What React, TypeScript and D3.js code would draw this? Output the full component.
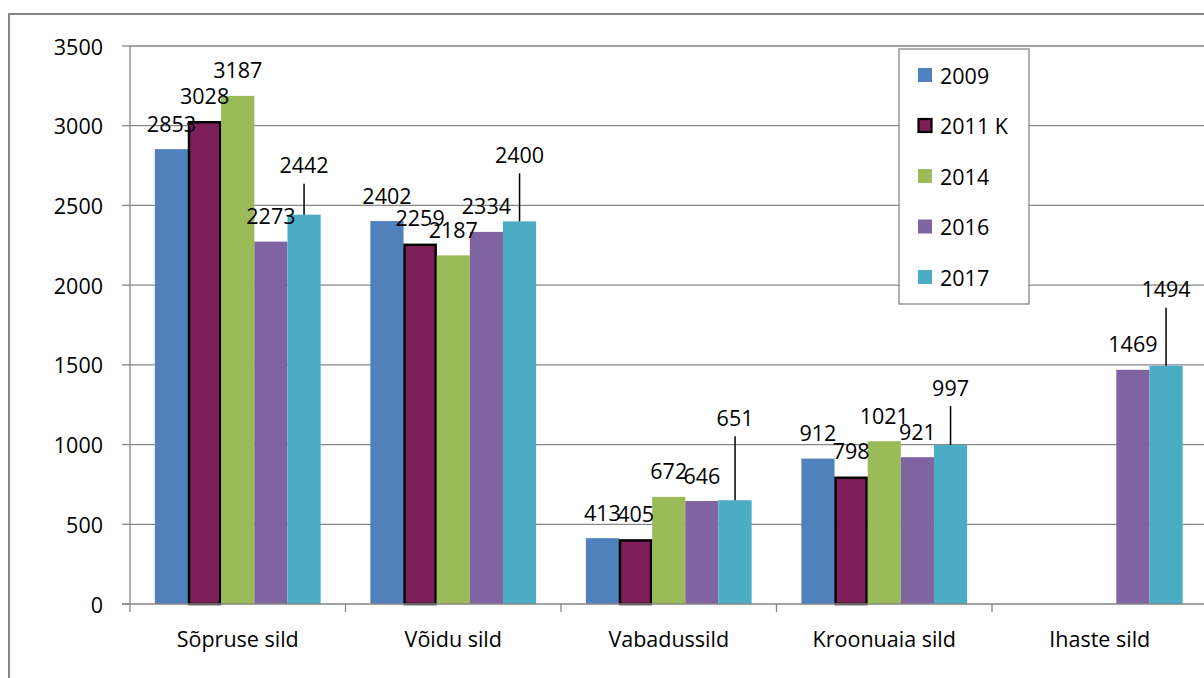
import React from "react";
import * as d3 from "d3";

const categories = ["Sõpruse sild", "Võidu sild", "Vabadussild", "Kroonuaia sild", "Ihaste sild"];
const seriesNames = ["2009", "2011 K", "2014", "2016", "2017"];
const s2009: (number | null)[] = [2853, 2402, 413, 912, null];
const s2011: (number | null)[] = [3028, 2259, 405, 798, null];
const s2014: (number | null)[] = [3187, 2187, 672, 1021, null];
const s2016: (number | null)[] = [2273, 2334, 646, 921, 1469];
const s2017: (number | null)[] = [2442, 2400, 651, 997, 1494];
const seriesValues = [s2009, s2011, s2014, s2016, s2017];
const yTicks = [0, 500, 1000, 1500, 2000, 2500, 3000, 3500];

// layout
const colors = ["#4F81BD", "#7F1F5A", "#9BBB59", "#8064A2", "#4BACC6"];
const outlined = [false, true, false, false, false];
// extra label lift (px) for labels moved up with leader lines: key "series-category"
const labelLift: Record<string, number> = { "4-0": 24, "4-1": 41, "4-2": 57, "4-3": 32, "4-4": 51 };

const FONT = "'Open Sans', 'Noto Sans', sans-serif";
const FS = 21.5;

export default function App() {
  const x0 = d3.scaleBand<string>().domain(categories).range([130, 130 + 5 * 215.5]);
  const x1 = d3
    .scaleBand<string>()
    .domain(seriesNames)
    .range([0, x0.bandwidth()])
    .paddingInner(0)
    .paddingOuter(0.75);
  const y = d3.scaleLinear().domain([0, 3500]).range([604, 46]);
  const gridColor = "#868686";

  const bars: React.ReactNode[] = [];
  const labels: React.ReactNode[] = [];
  seriesValues.forEach((vals, si) => {
    vals.forEach((v, ci) => {
      if (v == null) return;
      const bx = (x0(categories[ci]) ?? 0) + (x1(seriesNames[si]) ?? 0);
      const bw = x1.bandwidth();
      const top = y(v);
      if (outlined[si]) {
        bars.push(
          <rect key={`b${si}-${ci}`} x={bx + 1} y={top + 1} width={bw - 2} height={y(0) - top - 1}
            fill={colors[si]} stroke="#000" strokeWidth={2.5} />
        );
      } else {
        bars.push(<rect key={`b${si}-${ci}`} x={bx} y={top} width={bw} height={y(0) - top} fill={colors[si]} />);
      }
      const lift = labelLift[`${si}-${ci}`] ?? 0;
      const cy = top - 26 - lift;
      const cx = bx + bw / 2;
      if (lift > 0) {
        labels.push(
          <line key={`l${si}-${ci}`} x1={cx} x2={cx} y1={cy + 19} y2={top} stroke="#000" strokeWidth={1.5} />
        );
      }
      labels.push(
        <text key={`t${si}-${ci}`} x={cx} y={cy} textAnchor="middle" dominantBaseline="central"
          fontFamily={FONT} fontSize={FS} fill="#000">{v}</text>
      );
    });
  });

  return (
    <svg width={1204} height={678} style={{ position: "absolute", left: 0, top: 0, background: "#fff" }}>
      <rect x={9} y={14} width={1210} height={700} fill="#fff" stroke={gridColor} strokeWidth={2} />
      {yTicks.map((t) => (
        <g key={t}>
          {t > 0 && <line x1={130} x2={1210} y1={y(t)} y2={y(t)} stroke={gridColor} strokeWidth={1.3} />}
          <line x1={122} x2={130} y1={y(t)} y2={y(t)} stroke={gridColor} strokeWidth={1.3} />
          <text x={103} y={y(t)} textAnchor="end" dominantBaseline="central" fontFamily={FONT} fontSize={FS} fill="#000">{t}</text>
        </g>
      ))}
      {bars}
      <line x1={130} x2={130} y1={46} y2={604} stroke={gridColor} strokeWidth={1.3} />
      <line x1={122} x2={1210} y1={604} y2={604} stroke={gridColor} strokeWidth={1.3} />
      {categories.map((c, i) => (
        <g key={c}>
          <line x1={x0(c)} x2={x0(c)} y1={604} y2={612} stroke={gridColor} strokeWidth={1.3} />
          <text x={(x0(c) ?? 0) + x0.bandwidth() / 2} y={638} textAnchor="middle" dominantBaseline="central"
            fontFamily={FONT} fontSize={FS} fill="#000">{c}</text>
        </g>
      ))}
      {labels}
      <g>
        <rect x={899} y={49} width={130} height={255} fill="#fff" stroke={gridColor} strokeWidth={1.3} />
        {seriesNames.map((s, i) => {
          const cy = 75 + i * 50.5;
          return (
            <g key={s}>
              {outlined[i] ? (
                <rect x={918.5} y={cy - 6.5} width={13} height={13} fill={colors[i]} stroke="#000" strokeWidth={2.2} />
              ) : (
                <rect x={918} y={cy - 7} width={14} height={14} fill={colors[i]} />
              )}
              <text x={940} y={cy} dominantBaseline="central" fontFamily={FONT} fontSize={FS} fill="#000">{s}</text>
            </g>
          );
        })}
      </g>
    </svg>
  );
}
